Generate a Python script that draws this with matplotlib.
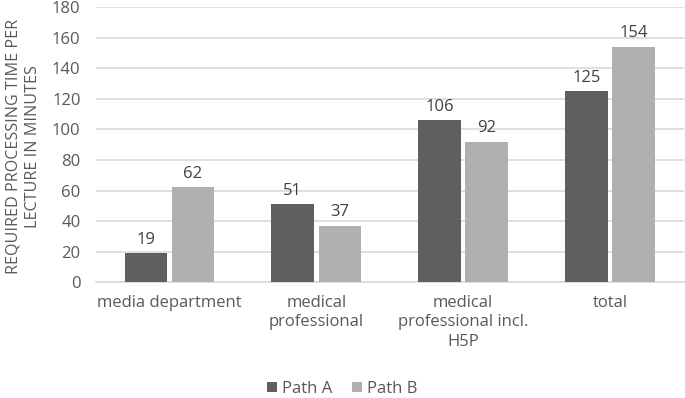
import numpy as np
import matplotlib.pyplot as plt

categories = ['media department', 'medical\nprofessional', 'medical\nprofessional incl.\nH5P', 'total']
path_a = [19, 51, 106, 125]
path_b = [62, 37, 92, 154]
yticks = [0, 20, 40, 60, 80, 100, 120, 140, 160, 180]

plt.rcParams['font.family'] = ['Open Sans', 'DejaVu Sans']
txt = '#595959'

fig = plt.figure(figsize=(6.85, 3.98), dpi=100)
ax = fig.add_axes([0.140, 0.291, 0.858, 0.691])

x = np.arange(len(categories))
w = 0.29
gap = 0.015
b1 = ax.bar(x - w / 2 - gap, path_a, w, color='#5f5f5f', label='Path A', zorder=3)
b2 = ax.bar(x + w / 2 + gap, path_b, w, color='#b0b0b0', label='Path B', zorder=3)
ax.bar_label(b1, padding=4, fontsize=12, color='#404040')
ax.bar_label(b2, padding=4, fontsize=12, color='#404040')

ax.set_xlim(-0.5, len(categories) - 0.5)
ax.set_ylim(0, 180)
ax.set_yticks(yticks)
ax.yaxis.grid(True, color='#d9d9d9', linewidth=1.2, zorder=0)
ax.set_axisbelow(True)
for s in ['top', 'right', 'left']:
    ax.spines[s].set_visible(False)
ax.spines['bottom'].set_color('#d9d9d9')
ax.spines['bottom'].set_linewidth(1.2)
ax.tick_params(length=0, labelsize=12, colors=txt)
ax.tick_params(axis='y', pad=11)
ax.tick_params(axis='x', pad=9)
ax.set_xticks(x)
ax.set_xticklabels(categories, linespacing=1.3)

# y label placed by hand so it sits left of the tick labels
fig.text(0.034, 0.633, 'REQUIRED PROCESSING TIME PER\nLECTURE IN MINUTES', fontsize=11.6,
         color=txt, rotation=90, ha='center', va='center', multialignment='center',
         linespacing=1.3)

fig.legend(loc='lower center', bbox_to_anchor=(0.5, -0.035), ncol=2, frameon=False,
           fontsize=12, labelcolor=txt, handlelength=0.6, handleheight=0.6,
           handletextpad=0.3, columnspacing=1.2)

fig.savefig('out.png', dpi=100)
